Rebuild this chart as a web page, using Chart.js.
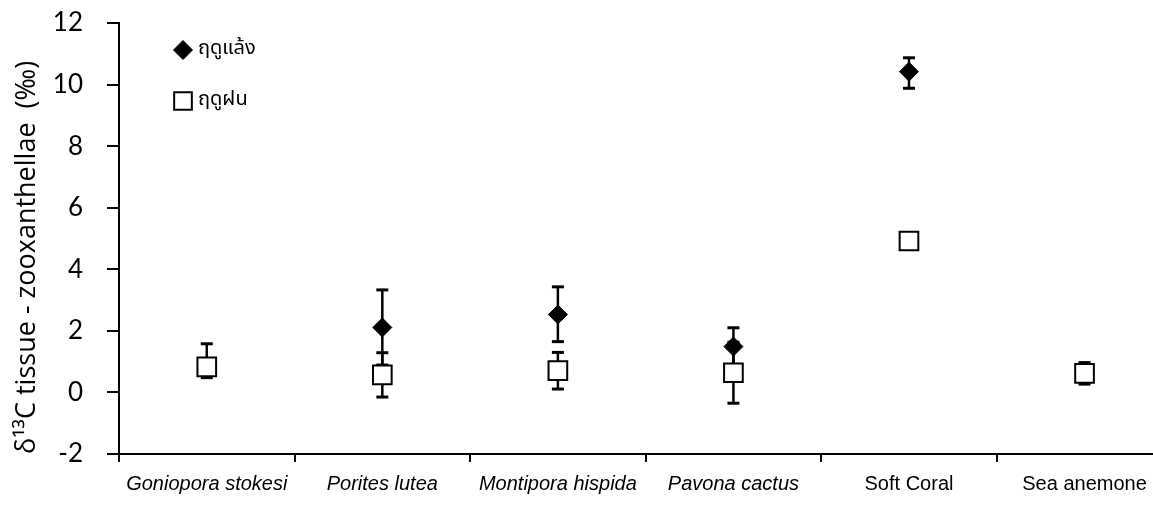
<!DOCTYPE html>
<html><head><meta charset="utf-8">
<script src="https://cdn.jsdelivr.net/npm/chart.js@4.4.1/dist/chart.umd.min.js"></script>
<style>html,body{margin:0;padding:0;background:#fff;overflow:hidden}</style>
</head><body>
<canvas id="c" width="1153" height="505"></canvas>
<script>
const categories = ['Goniopora stokesi', 'Porites lutea', 'Montipora hispida', 'Pavona cactus', 'Soft Coral', 'Sea anemone'];
const italicCategories = [true, true, true, true, false, false];
const dryLabel = 'ฤดูแล้ง';
const wetLabel = 'ฤดูฝน';
const dryValues  = [null, 2.11, 2.53, 1.49, 10.42, null];
const dryErrUp   = [null, 1.22, 0.90, 0.61, 0.45, null];
const dryErrDown = [null, 1.22, 0.88, 0.61, 0.54, null];
const wetValues  = [0.83, 0.57, 0.71, 0.64, 4.92, 0.62];
const wetErrUp   = [0.75, 0.72, 0.59, 0.99, 0, 0.35];
const wetErrDown = [0.35, 0.72, 0.60, 0.99, 0, 0.35];
const yTicks = [-2, 0, 2, 4, 6, 8, 10, 12];
const yTitle = 'δ¹³C tissue - zooxanthellae  (‰)';

function toPoints(vals) {
  const out = [];
  vals.forEach((v, i) => { if (v !== null) out.push({ x: i, y: v }); });
  return out;
}
function errs(vals, arr) {
  const out = [];
  vals.forEach((v, i) => { if (v !== null) out.push(arr[i]); });
  return out;
}

const errorBarPlugin = {
  id: 'errorBars',
  beforeDatasetsDraw(chart) {
    const ctx = chart.ctx;
    const xs = chart.scales.x, ys = chart.scales.y;
    ctx.save();
    ctx.strokeStyle = '#000';
    chart.data.datasets.forEach(ds => {
      ds.data.forEach((p, k) => {
        const up = ds.errUp[k], dn = ds.errDown[k];
        if (!up && !dn) return;
        const x = xs.getPixelForValue(p.x);
        const yT = ys.getPixelForValue(p.y + up);
        const yB = ys.getPixelForValue(p.y - dn);
        ctx.lineWidth = 2.5;
        ctx.beginPath(); ctx.moveTo(x, yT); ctx.lineTo(x, yB); ctx.stroke();
        ctx.lineWidth = 3;
        if (up) { ctx.beginPath(); ctx.moveTo(x - 6, yT); ctx.lineTo(x + 6, yT); ctx.stroke(); }
        if (dn) { ctx.beginPath(); ctx.moveTo(x - 6, yB); ctx.lineTo(x + 6, yB); ctx.stroke(); }
      });
    });
    ctx.restore();
  }
};

const legendPlugin = {
  id: 'innerLegend',
  afterDraw(chart) {
    const ctx = chart.ctx;
    const a = chart.chartArea;
    ctx.save();
    const rows = [
      { ds: chart.data.datasets[0], y: a.top + 27, r: 9.5 },
      { ds: chart.data.datasets[1], y: a.top + 78, r: 12.5 }
    ];
    rows.forEach(row => {
      const x = a.left + 64;
      ctx.fillStyle = row.ds.pointBackgroundColor;
      ctx.strokeStyle = row.ds.pointBorderColor;
      ctx.lineWidth = row.ds.pointBorderWidth;
      Chart.helpers.drawPoint(ctx, { pointStyle: row.ds.pointStyle, radius: row.r, rotation: 0, borderWidth: row.ds.pointBorderWidth }, x, row.y);
      ctx.fillStyle = '#000';
      ctx.font = '20px "Noto Sans Thai", "Noto Sans", "DejaVu Sans", sans-serif';
      ctx.textBaseline = 'middle';
      ctx.textAlign = 'left';
      ctx.fillText(row.ds.label, x + 15, row.y);
    });
    ctx.restore();
  }
};

new Chart(document.getElementById('c'), {
  type: 'line',
  data: {
    datasets: [
      {
        label: dryLabel,
        data: toPoints(dryValues),
        errUp: errs(dryValues, dryErrUp),
        errDown: errs(dryValues, dryErrDown),
        showLine: false,
        pointStyle: 'rectRot',
        pointRadius: 9.5,
        pointBackgroundColor: '#000',
        pointBorderColor: '#000',
        pointBorderWidth: 1,
        order: 1
      },
      {
        label: wetLabel,
        data: toPoints(wetValues),
        errUp: errs(wetValues, wetErrUp),
        errDown: errs(wetValues, wetErrDown),
        showLine: false,
        pointStyle: 'rect',
        pointRadius: 13.2,
        pointBackgroundColor: '#fff',
        pointBorderColor: '#000',
        pointBorderWidth: 2,
        order: 0
      }
    ]
  },
  options: {
    responsive: false,
    animation: false,
    events: [],
    layout: { autoPadding: false, padding: { top: 23, right: 0, left: 0, bottom: 0 } },
    plugins: { legend: { display: false }, tooltip: { enabled: false } },
    scales: {
      x: {
        type: 'linear',
        min: -0.5,
        max: 5.39,
        afterBuildTicks: s => {
          const t = [];
          categories.forEach((c, i) => { t.push({ value: i - 0.5 }); t.push({ value: i }); });
          s.ticks = t;
        },
        afterFit: s => { s.height = 51; s.paddingLeft = 0; s.paddingRight = 0; },
        border: { display: true, color: '#000', width: 2 },
        grid: {
          drawOnChartArea: false,
          drawTicks: true,
          tickLength: 8,
          lineWidth: 2,
          color: ctx => (ctx.tick && Number.isInteger(ctx.tick.value)) ? 'rgba(0,0,0,0)' : '#000'
        },
        ticks: {
          autoSkip: false,
          maxRotation: 0,
          padding: 10,
          color: '#000',
          font: ctx => ({
            family: '"Liberation Sans Narrow", "Liberation Sans", Arial, sans-serif',
            size: 20,
            style: (ctx.tick && Number.isInteger(ctx.tick.value) && italicCategories[ctx.tick.value]) ? 'italic' : 'normal'
          }),
          callback: v => Number.isInteger(v) ? categories[v] : ''
        }
      },
      y: {
        type: 'linear',
        min: -2,
        max: 12,
        afterBuildTicks: s => { s.ticks = yTicks.map(v => ({ value: v })); },
        afterFit: s => { s.width = 119; s.paddingTop = 0; s.paddingBottom = 0; },
        border: { display: true, color: '#000', width: 2 },
        grid: { drawOnChartArea: false, drawTicks: true, tickLength: 12, lineWidth: 2, color: '#000' },
        ticks: {
          padding: 24,
          color: '#000',
          font: { family: 'Lato, "Open Sans", sans-serif', size: 26 }
        },
        title: {
          display: true,
          text: yTitle,
          align: 'start',
          color: '#000',
          font: { family: '"Open Sans", Lato, sans-serif', size: 27 },
          padding: { top: 11, bottom: 0 }
        }
      }
    }
  },
  plugins: [errorBarPlugin, legendPlugin]
});
</script>
</body></html>
